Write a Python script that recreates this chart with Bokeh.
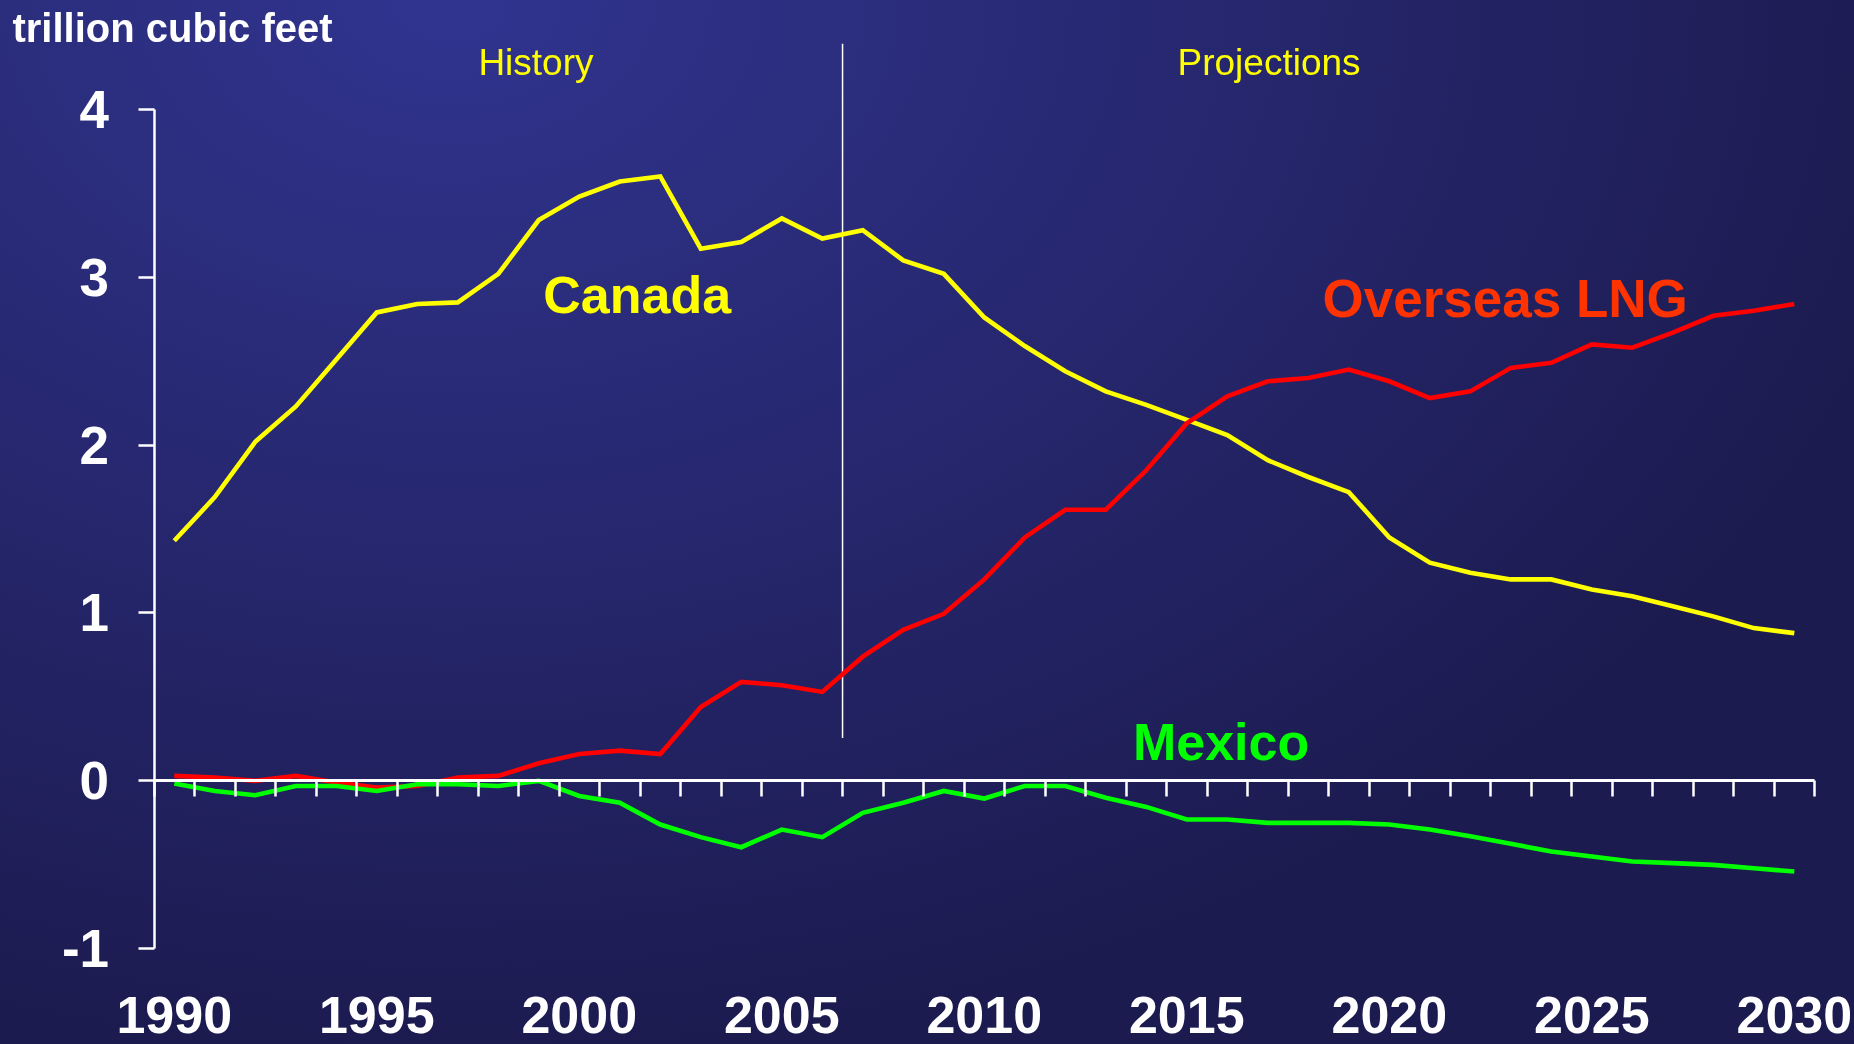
from bokeh.plotting import figure
from bokeh.models import LinearAxis, FixedTicker, Range1d, PrintfTickFormatter
from bokeh.core.properties import value
from bokeh.embed import file_html
from bokeh.resources import INLINE

# ---------------- data ----------------
years = list(range(1990, 2031))
canada = [1.43, 1.69, 2.02, 2.23, 2.51, 2.79, 2.84, 2.85, 3.02, 3.34,
          3.48, 3.57, 3.60, 3.17, 3.21, 3.35, 3.23, 3.28, 3.10, 3.02,
          2.76, 2.59, 2.44, 2.32, 2.24, 2.15, 2.06, 1.91, 1.81, 1.72,
          1.45, 1.30, 1.24, 1.20, 1.20, 1.14, 1.10, 1.04, 0.98, 0.91, 0.88]
overseas_lng = [0.03, 0.02, 0.00, 0.03, -0.01, -0.04, -0.03, 0.02, 0.03, 0.105,
                0.16, 0.18, 0.16, 0.44, 0.59, 0.57, 0.53, 0.74, 0.90, 0.995,
                1.20, 1.45, 1.615, 1.615, 1.85, 2.13, 2.29, 2.38, 2.40, 2.45,
                2.38, 2.28, 2.32, 2.46, 2.49, 2.60, 2.58, 2.67, 2.77, 2.80, 2.84]
mexico = [-0.015, -0.06, -0.085, -0.03, -0.03, -0.06, -0.02, -0.02, -0.03, 0.0,
          -0.09, -0.13, -0.26, -0.335, -0.395, -0.29, -0.335, -0.19, -0.13, -0.06,
          -0.105, -0.03, -0.03, -0.10, -0.155, -0.23, -0.23, -0.25, -0.25, -0.25,
          -0.26, -0.29, -0.33, -0.375, -0.42, -0.45, -0.48, -0.49, -0.50, -0.52, -0.54]
x_tick_years = [1990, 1995, 2000, 2005, 2010, 2015, 2020, 2025, 2030]
y_ticks = [-1, 0, 1, 2, 3, 4]
y_tick_labels = {-1: "-1", 0: "0", 1: "1", 2: "2", 3: "3", 4: "4"}
series_names = ["Canada", "Overseas LNG", "Mexico"]
period_names = ["History", "Projections"]
unit_label = "trillion cubic feet"
history_end = 2006.5

# ---------------- style ----------------
FONT = "Liberation Sans"
YELLOW = "#ffff00"
RED = "#ff0000"
RED_LABEL = "#ff3300"
GREEN = "#00ff00"

p = figure(width=1854, height=1044,
           x_range=Range1d(1985.709, 2031.486), y_range=Range1d(-1.570, 4.648),
           output_backend="svg", toolbar_location=None,
           x_axis_location=None, y_axis_location=None,
           min_border=0, border_fill_color=None, background_fill_color=None,
           outline_line_color=None)
p.grid.grid_line_color = None
p.styles = {
    "position": "fixed", "left": "0px", "top": "0px",
    "background": "radial-gradient(ellipse 1500px 1050px at 450px 0px, "
                  "#31348f 0%, #1c1b50 100%)",
}

# y axis at the left edge of the category range
yaxis = LinearAxis(fixed_location=years[0] - 0.5, bounds=(y_ticks[0], y_ticks[-1]),
                   ticker=FixedTicker(ticks=y_ticks))
yaxis.major_label_overrides = y_tick_labels
yaxis.axis_line_color = "white"
yaxis.axis_line_width = 2.5
yaxis.major_tick_line_color = "white"
yaxis.major_tick_line_width = 2.5
yaxis.major_tick_out = 16
yaxis.major_tick_in = 0
yaxis.minor_tick_line_color = None
yaxis.major_label_text_color = "white"
yaxis.major_label_text_font = FONT
yaxis.major_label_text_font_style = "bold"
yaxis.major_label_text_font_size = "53px"
yaxis.major_label_standoff = 29
p.add_layout(yaxis, "left")

# x axis line at zero with ticks between years
xaxis0 = LinearAxis(fixed_location=0, bounds=(years[0] - 0.5, years[-1] + 0.5),
                    ticker=FixedTicker(ticks=[years[0] - 0.5] + [y + 0.5 for y in years]))
xaxis0.axis_line_color = "white"
xaxis0.axis_line_width = 3
xaxis0.major_tick_line_color = "white"
xaxis0.major_tick_line_width = 2.5
xaxis0.major_tick_out = 16
xaxis0.major_tick_in = 0
xaxis0.minor_tick_line_color = None
xaxis0.major_label_text_alpha = 0
p.add_layout(xaxis0, "below")

# x labels at the bottom
xlab = LinearAxis(fixed_location=-1.29, ticker=FixedTicker(ticks=x_tick_years),
                  formatter=PrintfTickFormatter(format="%d"))
xlab.axis_line_color = None
xlab.major_tick_line_color = None
xlab.minor_tick_line_color = None
xlab.major_tick_out = 0
xlab.major_tick_in = 0
xlab.major_label_standoff = 0
xlab.major_label_text_color = "white"
xlab.major_label_text_font = FONT
xlab.major_label_text_font_style = "bold"
xlab.major_label_text_font_size = "52px"
p.add_layout(xlab, "below")

# history / projections divider
p.segment(x0=[history_end], y0=[0.256], x1=[history_end], y1=[4.39],
          line_color="white", line_width=1.5)

# series
p.line(years, canada, line_color=YELLOW, line_width=4.6, line_join="miter")
p.line(years, overseas_lng, line_color=RED, line_width=4.6, line_join="miter")
p.line(years, mexico, line_color=GREEN, line_width=4.6, line_join="miter")

# series labels
p.text(x=[1999.11], y=[2.895], text=[series_names[0]], text_font=value(FONT),
       text_font_style="bold", text_font_size="52px", text_color=YELLOW,
       text_align="left", text_baseline="alphabetic")
p.text(x=[2018.35], y=[2.875], text=[series_names[1]], text_font=value(FONT),
       text_font_style="bold", text_font_size="53px", text_color=RED_LABEL,
       text_align="left", text_baseline="alphabetic")
p.text(x=[2013.67], y=[0.23], text=[series_names[2]], text_font=value(FONT),
       text_font_style="bold", text_font_size="52px", text_color=GREEN,
       text_align="left", text_baseline="alphabetic")

# period labels
p.text(x=[1998.93, 2017.03], y=[4.278, 4.278], text=period_names, text_font=value(FONT),
       text_font_size="37px", text_color=YELLOW, text_align="center",
       text_baseline="alphabetic")

# unit label
p.text(x=[1986.005], y=[4.483], text=[unit_label], text_font=value(FONT),
       text_font_style="bold", text_font_size="40px", text_color="white",
       text_align="left", text_baseline="alphabetic")

open("out.html", "w").write(file_html(p, INLINE))
